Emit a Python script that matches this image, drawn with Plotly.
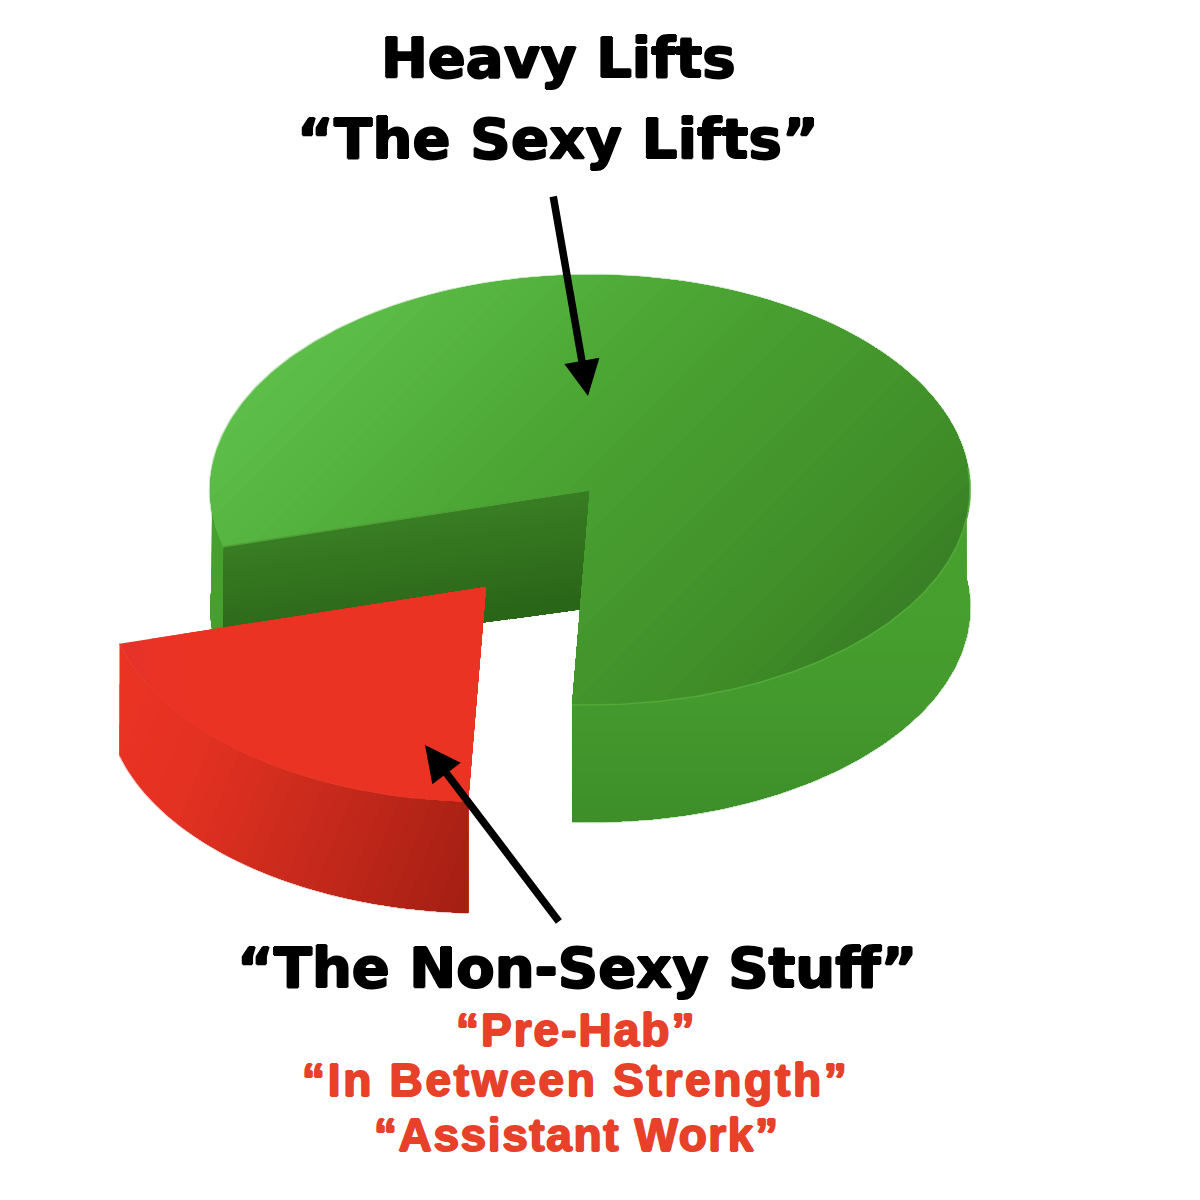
import numpy as np
import plotly.graph_objects as go

# ---- data ----
categories = ["Heavy Lifts", "The Non-Sexy Stuff"]
shares = [80, 20]

title_lines = ["Heavy Lifts", "“The Sexy Lifts”"]
bottom_title = "“The Non-Sexy Stuff”"
red_lines = ["“Pre-Hab”", "“In Between Strength”", "“Assistant Work”"]

# ---- projection of the tilted pie ----
CX, CY, RX, RY = 590, 490, 380, 215
DEPTH = 117
START = 92.7
EXPLODE = (-104, 97)

GREEN_TOP = [(470, "#5cbd48"), (700, "#4ba533"), (1000, "#3f8c28"), (1060, "#3a8026")]
GREEN_SIDE = [(590, "#47a02e"), (700, "#449a2d"), (830, "#3d8d29")]
WALL = [(540, "#3d8427"), (680, "#2a6618")]
RED_TOP = [(110, "#e5322f"), (170, "#ea3323"), (900, "#ea3323")]
RED_SIDE = [(371, "#ea3323"), (460, "#e43122"), (533, "#d52e1f"), (775, "#a31f13")]


def arc(t0, t1, ox=0, oy=0, dz=0, n=160):
    t = np.radians(np.linspace(t0, t1, n))
    return np.column_stack([CX + ox + RX * np.cos(t), CY + oy + dz + RY * np.sin(t)])


def hex_rgb(c):
    return np.array([int(c[i:i + 2], 16) for i in (1, 3, 5)], float)


def colour_at(stops, d):
    ds = [s[0] for s in stops]
    rgb = np.array([hex_rgb(s[1]) for s in stops])
    vals = [np.interp(d, ds, rgb[:, i]) for i in range(3)]
    return "rgb(%d,%d,%d)" % tuple(round(v) for v in vals)


def clip(poly, u, level):
    out = []
    d = poly @ u - level
    for i in range(len(poly)):
        j = (i + 1) % len(poly)
        if d[i] >= 0:
            out.append(poly[i])
        if (d[i] >= 0) != (d[j] >= 0):
            out.append(poly[i] + (poly[j] - poly[i]) * d[i] / (d[i] - d[j]))
    return np.array(out) if out else None


def add_fill(fig, xy, colour):
    closed = np.vstack([xy, xy[:1]])
    fig.add_trace(go.Scatter(
        x=closed[:, 0], y=closed[:, 1], mode="lines", fill="toself", fillcolor=colour,
        line=dict(width=0, color=colour), hoverinfo="skip", showlegend=False))


def add_gradient(fig, poly, direction, stops, bands=28):
    u = np.array(direction, float)
    u /= np.linalg.norm(u)
    d = poly @ u
    levels = np.linspace(d.min(), d.max(), bands + 1)[:-1]
    for k, lev in enumerate(levels):
        part = poly if k == 0 else clip(poly, u, lev)
        if part is not None and len(part) > 2:
            add_fill(fig, part, colour_at(stops, lev + (levels[1] - levels[0]) / 2))


def add_line(fig, xy, colour, width):
    fig.add_trace(go.Scatter(x=xy[:, 0], y=xy[:, 1], mode="lines",
                             line=dict(color=colour, width=width),
                             hoverinfo="skip", showlegend=False))


sweep = 360 * shares[1] / sum(shares)
a_front = START
a_left = START + sweep
centre = np.array([[CX, CY]], float)

fig = go.Figure()

# soft outer rims (the reference edges are slightly blurred)
add_line(fig, arc(-5, a_front, dz=DEPTH), "rgba(70,150,50,0.35)", 2.5)
add_line(fig, arc(a_left + 5, 365), "rgba(80,170,60,0.35)", 2.5)
add_line(fig, arc(a_front, a_left, *EXPLODE, dz=DEPTH - 6), "rgba(190,50,40,0.35)", 2.5)

# green slice
left_side = np.vstack([arc(a_left, 186), arc(a_left, 186, dz=DEPTH)[::-1]])
add_gradient(fig, left_side, (0, 1), GREEN_SIDE, 10)
right_side = np.vstack([arc(-8, a_front), arc(-8, a_front, dz=DEPTH)[::-1]])
add_gradient(fig, right_side, (0, 1), GREEN_SIDE)
p_left = arc(a_left, a_left, n=1)
wall = np.vstack([centre, p_left, p_left + [0, DEPTH - 6], centre + [0, DEPTH + 1]])
add_gradient(fig, wall, (0.15, 1), WALL)
green_top = np.vstack([centre, arc(a_left, a_front + 360, n=400)])
add_gradient(fig, green_top, (0.7, 0.7), GREEN_TOP, 40)
add_line(fig, arc(-6, a_front), "#52aa3a", 1.6)
add_line(fig, np.vstack([centre + [-1, 0], p_left]), "#4f9f36", 1.4)

# red slice
ox, oy = EXPLODE
red_side = np.vstack([arc(a_front, a_left, ox, oy), arc(a_front, a_left, ox, oy, DEPTH - 6)[::-1]])
add_gradient(fig, red_side, (1, 0.4), RED_SIDE)
red_top = np.vstack([centre + [ox, oy], arc(a_front, a_left, ox, oy)])
add_gradient(fig, red_top, (1, 0), RED_TOP, 12)
add_line(fig, arc(a_front + 8, a_left, ox, oy), "#e63b2c", 1.0)

# ---- labels ----
BLACK = "#000000"
RED = "#e8412a"
STROKE = "1px 0 0 {c}, -1px 0 0 {c}, 0 1px 0 {c}, 0 -1px 0 {c}"


def label(text, x, y, size, colour, spacing, family):
    fig.add_annotation(
        x=x, y=y, xref="x", yref="y", showarrow=False, xanchor="center", yanchor="middle",
        text=f'<span style="letter-spacing:{spacing}px">{text}</span>',
        font=dict(family=family, size=size, color=colour, weight="bold",
                  shadow=STROKE.format(c=colour)))


BLACK_FONT = "DejaVu Sans"
RED_FONT = "Liberation Sans"
label(title_lines[0], 558, 57, 56, BLACK, 0, BLACK_FONT)
label(title_lines[1], 558, 138, 56, BLACK, 0.2, BLACK_FONT)
label(bottom_title, 577, 967, 56, BLACK, 0, BLACK_FONT)
label(red_lines[0], 576, 1030, 46, RED, 2.0, RED_FONT)
label(red_lines[1], 575, 1080, 46, RED, 2.7, RED_FONT)
label(red_lines[2], 577, 1135, 46, RED, 1.6, RED_FONT)

for (tx, ty, ax, ay) in [(588, 396, 553, 195), (425, 745, 560, 923)]:
    fig.add_annotation(x=tx, y=ty, ax=ax, ay=ay, xref="x", yref="y", axref="x", ayref="y",
                       text="", showarrow=True, arrowhead=2, arrowsize=0.95, arrowwidth=7.5,
                       arrowcolor=BLACK)

fig.update_layout(
    width=1200, height=1200, margin=dict(l=0, r=0, t=0, b=0),
    paper_bgcolor="white", plot_bgcolor="white", showlegend=False,
    xaxis=dict(range=[0, 1200], visible=False, fixedrange=True),
    yaxis=dict(range=[1200, 0], visible=False, fixedrange=True),
)
fig.write_html("out.html", config={"displayModeBar": False},
               post_script="document.body.style.margin='0';")
